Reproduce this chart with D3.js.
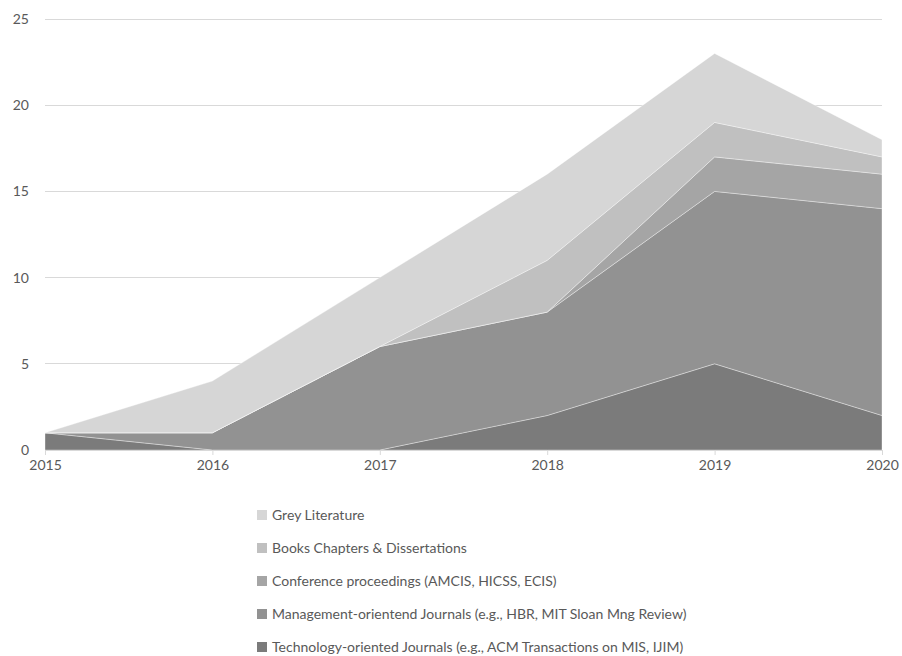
<!DOCTYPE html>
<html><head><meta charset="utf-8">
<script src="https://cdn.jsdelivr.net/npm/d3@7"></script>
<style>body{margin:0;background:#fff}svg{display:block}text{font-family:Lato,"Open Sans",sans-serif;fill:#595959}</style>
</head><body><svg id="c" width="902" height="656"></svg>
<script>
const years = [2015, 2016, 2017, 2018, 2019, 2020];
const seriesNames = [
  "Technology-oriented Journals (e.g., ACM Transactions on MIS, IJIM)",
  "Management-orientend Journals (e.g., HBR, MIT Sloan Mng Review)",
  "Conference proceedings (AMCIS, HICSS, ECIS)",
  "Books Chapters & Dissertations",
  "Grey Literature"
];
const tech  = [1, 0, 0, 2, 5, 2];
const mgmt  = [0, 1, 6, 6, 10, 12];
const conf  = [0, 0, 0, 0, 2, 2];
const books = [0, 0, 0, 3, 2, 1];
const grey  = [0, 3, 4, 5, 4, 1];
const yTicks = [0, 5, 10, 15, 20, 25];
const colors = ["#7b7b7b", "#929292", "#a5a5a5", "#c0c0c0", "#d6d6d6"];

const svg = d3.select("#c");
const x = d3.scaleLinear().domain([2015, 2020]).range([45, 882]);
const y = d3.scaleLinear().domain([0, 25]).range([450, 19]);

// gridlines
svg.append("g").selectAll("line").data(yTicks.slice(1)).join("line")
  .attr("x1", 45).attr("x2", 882).attr("y1", d => y(d)).attr("y2", d => y(d))
  .attr("stroke", "#d9d9d9").attr("stroke-width", 1).attr("shape-rendering", "crispEdges");

const table = years.map((yr, i) => ({year: yr, s0: tech[i], s1: mgmt[i], s2: conf[i], s3: books[i], s4: grey[i]}));
const stack = d3.stack().keys(["s0", "s1", "s2", "s3", "s4"]);
const layers = stack(table);
const area = d3.area().x(d => x(d.data.year)).y0(d => y(d[0])).y1(d => y(d[1]));
svg.append("g").selectAll("path").data(layers).join("path")
  .attr("d", area).attr("fill", (d, i) => colors[i])
  .attr("stroke", "#ffffff").attr("stroke-width", 0.6).attr("stroke-opacity", 0.6);

// y axis labels
svg.append("g").selectAll("text").data(yTicks).join("text")
  .attr("x", 29).attr("y", d => y(d)).attr("dy", "0.35em").attr("text-anchor", "end")
  .attr("font-size", 14).text(d => d);

// x axis
const xa = svg.append("g").attr("transform", "translate(0,450)")
  .call(d3.axisBottom(x).tickValues(years).tickFormat(d3.format("d")).tickSize(5).tickPadding(5));
xa.select(".domain").attr("stroke", "#d9d9d9");
xa.selectAll(".tick line").attr("stroke", "#d9d9d9");
xa.selectAll(".tick text").attr("font-size", 14).attr("fill", "#595959").attr("font-family", "Lato,'Open Sans',sans-serif");

// legend
const legendOrder = [4, 3, 2, 1, 0];
const lg = svg.append("g").selectAll("g").data(legendOrder).join("g")
  .attr("transform", (d, i) => `translate(257,${515 + i * 33})`);
lg.append("rect").attr("x", 0).attr("y", -5).attr("width", 10).attr("height", 10).attr("fill", d => colors[d]);
lg.append("text").attr("x", 15).attr("y", 0).attr("dy", "0.35em").attr("font-size", 14).text(d => seriesNames[d]);
</script></body></html>
